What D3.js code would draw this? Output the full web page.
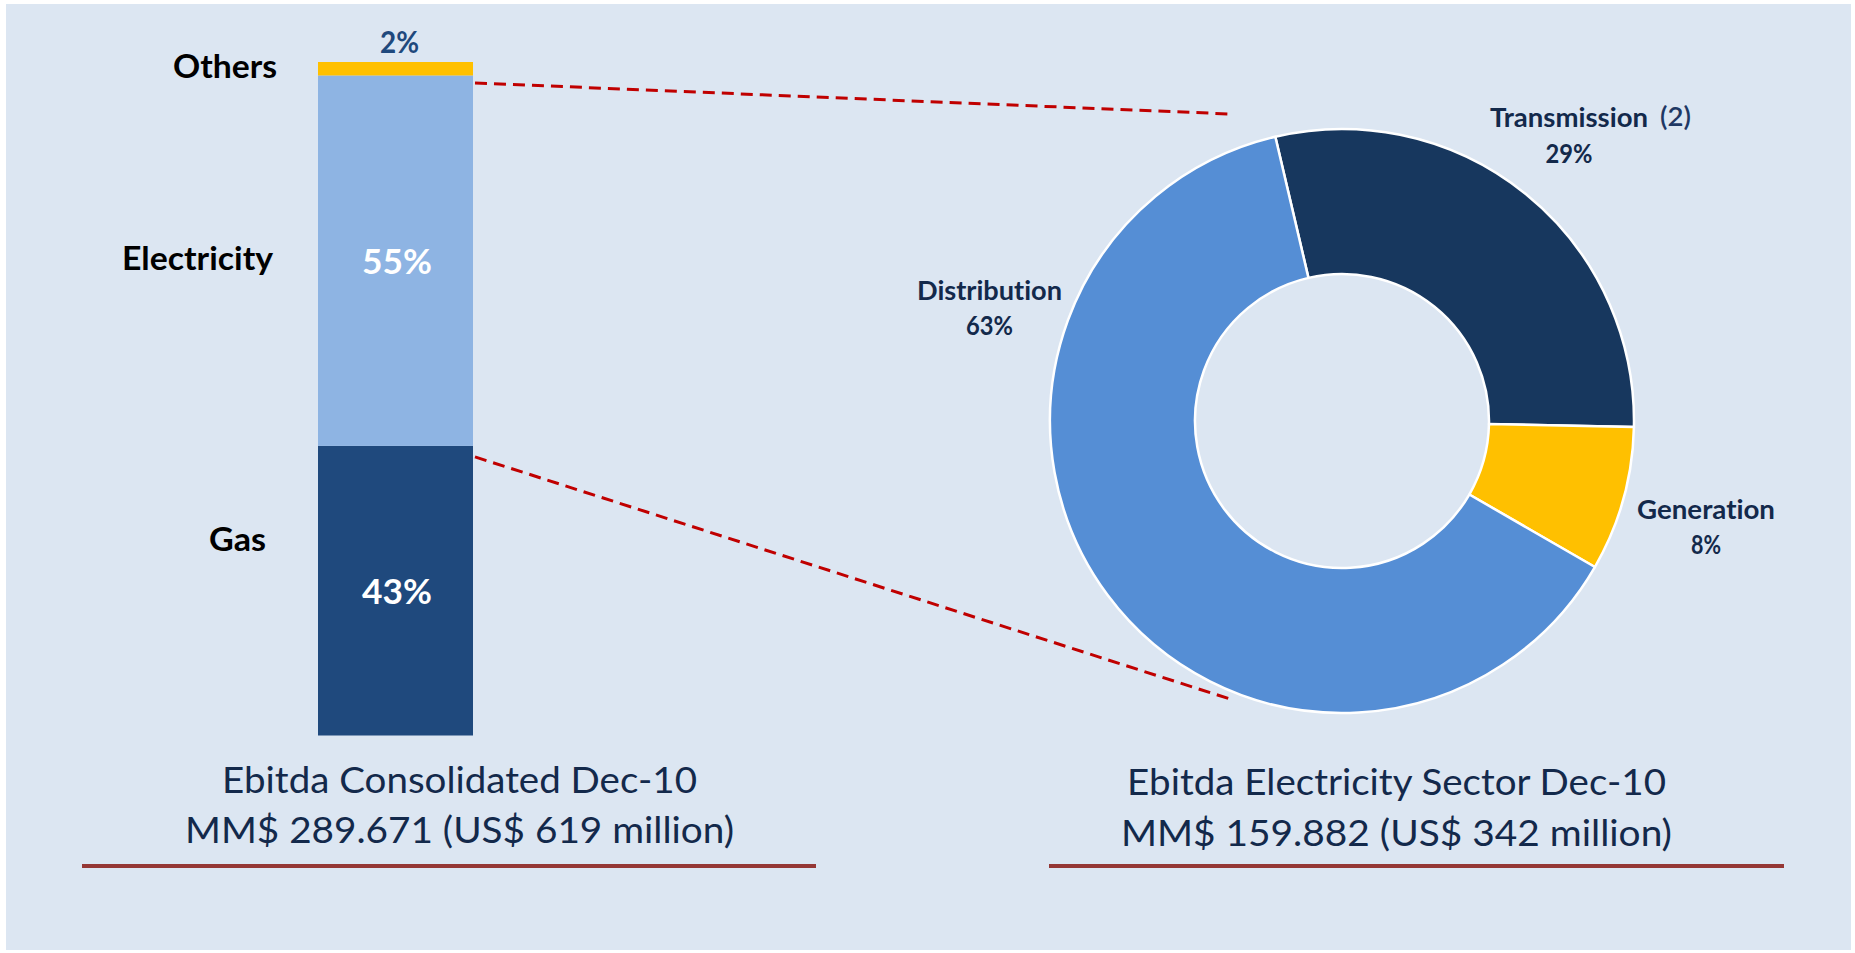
<!DOCTYPE html>
<html>
<head>
<meta charset="utf-8">
<script src="https://cdn.jsdelivr.net/npm/d3@7"></script>
<style>
  html, body { margin: 0; padding: 0; background: #ffffff; }
  svg { display: block; }
  text { font-family: Lato, "Open Sans", "Noto Sans", sans-serif; font-variant-ligatures: none; font-feature-settings: "liga" 0, "clig" 0; }
</style>
</head>
<body>
<svg id="chart" width="1855" height="953"></svg>
<script>
// ---------- DATA ----------
const barPeriod = ["Dec-10"];
const barCategories = ["Gas", "Electricity", "Others"];
const barValues = [43, 55, 2];           // % of consolidated Ebitda
const barLabels = ["43%", "55%", "2%"];

const pieCategories = ["Transmission", "Generation", "Distribution"];
const pieValues = [29, 8, 63];            // % of electricity sector Ebitda
const pieLabels = ["29%", "8%", "63%"];

const leftTitle = ["Ebitda Consolidated Dec-10", "MM$ 289.671 (US$ 619 million)"];
const rightTitle = ["Ebitda Electricity Sector Dec-10", "MM$ 159.882 (US$ 342 million)"];

// ---------- STYLE / LAYOUT ----------
const barColors = { Gas: "#1F497D", Electricity: "#8EB4E3", Others: "#FFC000" };
const pieColors = { Transmission: "#17375E", Generation: "#FFC000", Distribution: "#558ED5" };
const navy = "#13294B";

const svg = d3.select("#chart");

// background panel
svg.append("rect").attr("x", 6).attr("y", 4).attr("width", 1845).attr("height", 946)
  .attr("fill", "#DCE6F2");

function fitText(sel, w) {
  sel.attr("textLength", w).attr("lengthAdjust", "spacingAndGlyphs");
  return sel;
}

// ---------- STACKED BAR ----------
const x = d3.scaleBand().domain(barPeriod).range([318, 473]).padding(0);
const y = d3.scaleLinear().domain([0, 100]).range([735.5, 62]);

const row = { period: barPeriod[0] };
barCategories.forEach((c, i) => row[c] = barValues[i]);
const stacked = d3.stack().keys(barCategories)([row]);

const gBar = svg.append("g");
gBar.selectAll("rect").data(stacked).join("rect")
  .attr("x", d => x(d[0].data.period))
  .attr("width", x.bandwidth())
  .attr("y", d => y(d[0][1]))
  .attr("height", d => y(d[0][0]) - y(d[0][1]))
  .attr("fill", d => barColors[d.key]);

// category labels (left of bar)
const catLabelLayout = { Gas: { xr: 266, y: 551 }, Electricity: { xr: 273, y: 270 }, Others: { xr: 277, y: 78 } };
const catLabelWidth = { Gas: 57, Electricity: 151, Others: 104 };
barCategories.forEach(c => {
  fitText(gBar.append("text")
    .attr("x", catLabelLayout[c].xr).attr("y", catLabelLayout[c].y)
    .attr("text-anchor", "end")
    .attr("font-size", 33).attr("font-weight", 700).attr("fill", "#000")
    .text(c), catLabelWidth[c]);
});

// value labels
const bandMid = x(barPeriod[0]) + x.bandwidth() / 2;
stacked.forEach((s, i) => {
  const key = s.key;
  const d = s[0];
  let ty, color, fs, w, cx = bandMid + 1.5;
  if (key === "Others") {
    ty = y(d[1]) - 9.5; color = "#1F497D"; fs = 31; w = 39; cx = bandMid + 4;
  } else {
    ty = (y(d[0]) + y(d[1])) / 2 + 13; color = "#FFFFFF"; fs = 35; w = 70;
  }
  fitText(gBar.append("text")
    .attr("x", cx).attr("y", ty)
    .attr("text-anchor", "middle")
    .attr("font-size", fs).attr("font-weight", 700).attr("fill", color)
    .text(barLabels[i]), w);
});

// ---------- DONUT ----------
const cx = 1342, cy = 421, rOuter = 292, rInner = 147;
const startDeg = -13.2;
const pie = d3.pie().sort(null).value(d => d.value)
  .startAngle(startDeg * Math.PI / 180)
  .endAngle((startDeg + 360) * Math.PI / 180);
const pieData = pie(pieCategories.map((c, i) => ({ name: c, value: pieValues[i], label: pieLabels[i] })));
const arc = d3.arc().innerRadius(rInner).outerRadius(rOuter);

const gPie = svg.append("g").attr("transform", `translate(${cx},${cy})`);
gPie.selectAll("path").data(pieData).join("path")
  .attr("d", arc)
  .attr("fill", d => pieColors[d.data.name])
  .attr("stroke", "#FFFFFF").attr("stroke-width", 2.5).attr("stroke-linejoin", "round");

// connector dashed lines from bar (electricity segment) to donut
const barRight = x(barPeriod[0]) + x.bandwidth();
const elecTop = y(barValues[0] + barValues[1]);
const elecBottom = y(barValues[0]);
const gLines = svg.append("g").attr("stroke", "#C00000").attr("stroke-width", 3)
  .attr("stroke-dasharray", "12,7").attr("fill", "none");
gLines.append("line").attr("x1", barRight + 2).attr("y1", elecTop + 7.5)
  .attr("x2", cx - 112).attr("y2", cy - 307);
gLines.append("line").attr("x1", barRight + 2).attr("y1", elecBottom + 11)
  .attr("x2", cx - 112).attr("y2", cy + 278);

// donut labels
const pieLabelLayout = {
  Transmission: { x: 1569, y1: 127, y2: 163, w1: 158, w2: 47 },
  Generation: { x: 1706, y1: 519, y2: 554, w1: 138, w2: 30 },
  Distribution: { x: 989.5, y1: 300, y2: 335, w1: 145, w2: 47 }
};
pieData.forEach(d => {
  const L = pieLabelLayout[d.data.name];
  fitText(svg.append("text").attr("x", L.x).attr("y", L.y1).attr("text-anchor", "middle")
    .attr("font-size", 27).attr("font-weight", 700).attr("fill", navy)
    .text(d.data.name), L.w1);
  fitText(svg.append("text").attr("x", L.x).attr("y", L.y2).attr("text-anchor", "middle")
    .attr("font-size", 27).attr("font-weight", 700).attr("fill", navy)
    .text(d.data.label), L.w2);
  if (d.data.name === "Transmission") {
    fitText(svg.append("text").attr("x", 1660).attr("y", L.y1 - 1).attr("text-anchor", "start")
      .attr("font-size", 27).attr("font-weight", 600).attr("fill", "#1F3864")
      .text("(2)"), 31);
  }
});

// ---------- TITLES ----------
function title(lines, centerX, y1, y2, w1, w2, lineX1, lineX2) {
  fitText(svg.append("text").attr("x", centerX).attr("y", y1).attr("text-anchor", "middle")
    .attr("font-size", 37).attr("fill", navy).text(lines[0]), w1);
  fitText(svg.append("text").attr("x", centerX).attr("y", y2).attr("text-anchor", "middle")
    .attr("font-size", 37).attr("fill", navy).text(lines[1]), w2);
  svg.append("line").attr("x1", lineX1).attr("x2", lineX2).attr("y1", 866).attr("y2", 866)
    .attr("stroke", "#953735").attr("stroke-width", 4);
}
title(leftTitle, 459.5, 793, 843, 475, 549, 82, 816);
title(rightTitle, 1396.5, 795, 846, 539, 551, 1049, 1784);
</script>
</body>
</html>
